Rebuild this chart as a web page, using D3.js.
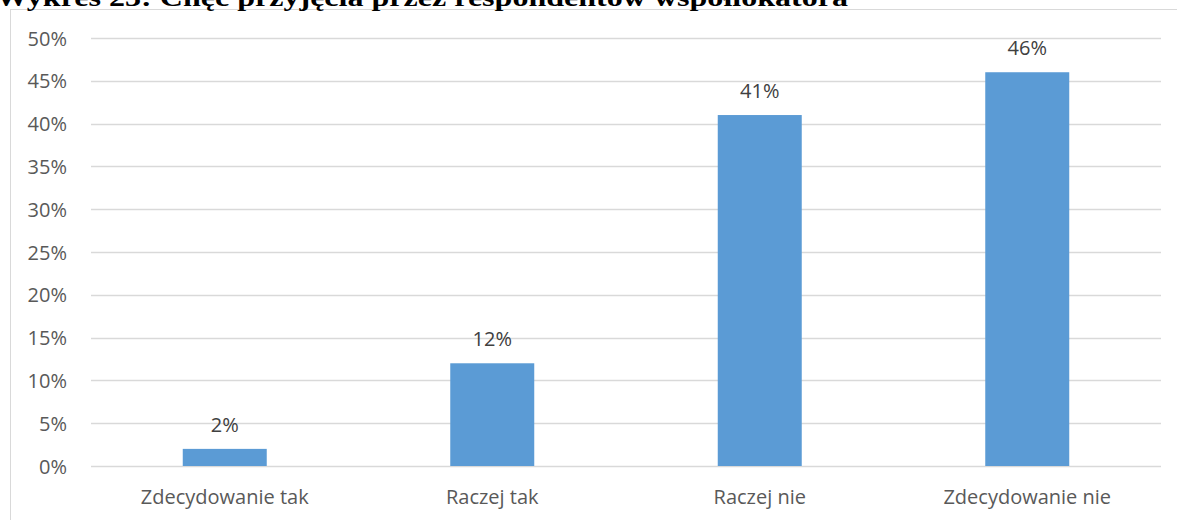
<!DOCTYPE html>
<html><head><meta charset="utf-8">
<script src="https://cdn.jsdelivr.net/npm/d3@7/dist/d3.min.js"></script>
<style>body{margin:0;background:#fff;overflow:hidden}</style>
</head><body>
<svg id="c" width="1177" height="520"></svg>
<script>
const categories = ["Zdecydowanie tak", "Raczej tak", "Raczej nie", "Zdecydowanie nie"];
const values = [2, 12, 41, 46];
const yTicks = [0, 5, 10, 15, 20, 25, 30, 35, 40, 45, 50];
const title = "Wykres 23: Chęć przyjęcia przez respondentów współlokatora";

const svg = d3.select("#c");
const pLeft = 91, pRight = 1161, pTop = 38, pBottom = 466;

// chart border
svg.append("rect").attr("x", 10.5).attr("y", 9.5).attr("width", 1200).attr("height", 600)
  .attr("fill", "#fff").attr("stroke", "#d9d9d9").attr("stroke-width", 1);

// title (clipped at top of page)
const t = svg.append("text").attr("x", -4).attr("y", 6)
  .attr("font-family", "Liberation Serif, Times New Roman, serif").attr("font-weight", "bold")
  .attr("font-size", 26).attr("fill", "#000").text(title);
t.attr("textLength", 852).attr("lengthAdjust", "spacingAndGlyphs");

const x = d3.scaleBand().domain(categories).range([pLeft, pRight]).paddingInner(0.686).paddingOuter(0.343);
const y = d3.scaleLinear().domain([0, 50]).range([pBottom, pTop]);

const font = "Open Sans, sans-serif";

// gridlines
svg.append("g").selectAll("line").data(yTicks).join("line")
  .attr("x1", pLeft).attr("x2", pRight)
  .attr("y1", d => Math.round(y(d)) + 0.5).attr("y2", d => Math.round(y(d)) + 0.5)
  .attr("stroke", "#d9d9d9").attr("stroke-width", 1.5);

// y axis
const ya = svg.append("g").attr("transform", `translate(${pLeft - 24},0)`)
  .call(d3.axisLeft(y).tickValues(yTicks).tickFormat(d => d + "%").tickSize(0).tickPadding(0));
ya.select(".domain").remove();
ya.selectAll("text").attr("font-family", font).attr("font-size", 20).attr("fill", "#595959").attr("dy", "0.35em");

// x axis
const xa = svg.append("g").attr("transform", `translate(0,${pBottom})`)
  .call(d3.axisBottom(x).tickSize(0).tickPadding(24));
xa.select(".domain").remove();
xa.selectAll("text").attr("font-family", font).attr("font-size", 20).attr("fill", "#595959");

// bars
svg.append("g").selectAll("rect").data(values).join("rect")
  .attr("x", (d, i) => x(categories[i])).attr("width", x.bandwidth())
  .attr("y", d => y(d)).attr("height", d => y(0) - y(d))
  .attr("fill", "#5b9bd5");

// value labels
svg.append("g").selectAll("text").data(values).join("text")
  .attr("x", (d, i) => x(categories[i]) + x.bandwidth() / 2)
  .attr("y", d => y(d) - 17)
  .attr("text-anchor", "middle").attr("font-family", font).attr("font-size", 20)
  .attr("fill", "#404040").text(d => d + "%");
</script>
</body></html>
